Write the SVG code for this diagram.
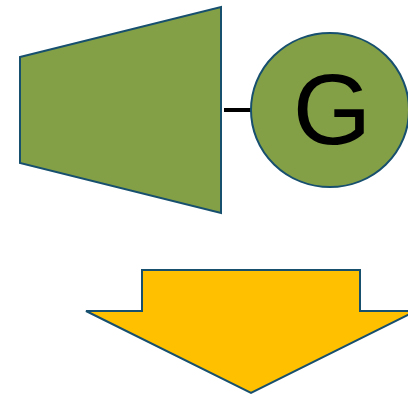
<svg xmlns="http://www.w3.org/2000/svg" width="408" height="398" viewBox="0 0 408 398">
<style>
.shape{stroke:#174f6e;stroke-width:2;stroke-linejoin:miter}
.green{fill:#84a046}
.yellow{fill:#ffc000}
.lbl{font-family:"Liberation Sans",Arial,sans-serif;font-size:101px;fill:#000}
</style>
<rect width="408" height="398" fill="#fff"/>
<g id="connectors">
<line x1="224" y1="110" x2="252" y2="110" stroke="#000" stroke-width="4"/>
</g>
<g id="turbine">
<polygon class="shape green" points="20,57 221,7 221,213 20,163"/>
</g>
<g id="generator">
<ellipse class="shape green" cx="330" cy="110" rx="79" ry="77"/>
<text class="lbl" x="332" y="144" text-anchor="middle">G</text>
</g>
<g id="arrow">
<polygon class="shape yellow" points="142,270 360,270 360,311 416,311 251,393 86,311 142,311"/>
</g>
</svg>
